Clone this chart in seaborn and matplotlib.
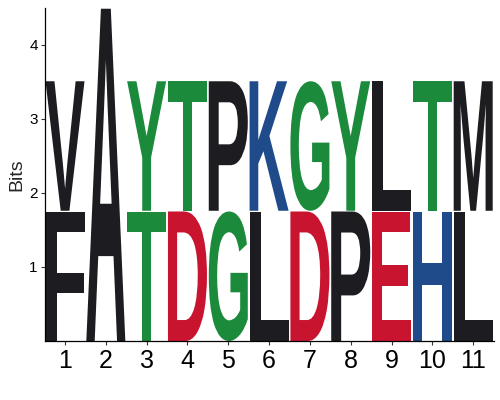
import matplotlib
matplotlib.use("Agg")
import matplotlib.pyplot as plt
import seaborn as sns
from matplotlib.textpath import TextPath
from matplotlib.patches import PathPatch
from matplotlib.font_manager import FontProperties
from matplotlib.transforms import Affine2D

# ---- data ----
positions = [1, 2, 3, 4, 5, 6, 7, 8, 9, 10, 11]
bottom_letters = ["F", "A", "T", "D", "G", "L", "D", "P", "E", "H", "L"]
bottom_heights = [1.76, 4.5, 1.76, 1.76, 1.76, 1.76, 1.76, 1.76, 1.76, 1.76, 1.76]
top_letters = ["V", "", "Y", "T", "P", "K", "G", "Y", "L", "T", "M"]
top_heights = [1.76, 0.0, 1.76, 1.76, 1.76, 1.76, 1.76, 1.76, 1.76, 1.76, 1.76]
y_ticks = [1, 2, 3, 4]

# chemistry colour scheme
colors = {
    "hydrophobic": "#1d1c20",
    "polar": "#1b8a3b",
    "basic": "#1f4b8b",
    "acidic": "#c9142f",
}
groups = {
    "A": "hydrophobic", "V": "hydrophobic", "L": "hydrophobic", "I": "hydrophobic",
    "P": "hydrophobic", "W": "hydrophobic", "F": "hydrophobic", "M": "hydrophobic",
    "G": "polar", "S": "polar", "T": "polar", "Y": "polar", "C": "polar",
    "K": "basic", "R": "basic", "H": "basic",
    "D": "acidic", "E": "acidic",
}

sns.set_theme(style="ticks")
plt.rcParams["font.family"] = ["Liberation Sans", "DejaVu Sans"]

fig = plt.figure(figsize=(5, 4), dpi=100)
ax = fig.add_axes([0.0892, 0.1475, 0.898, 0.8325])

fp = FontProperties(family="Liberation Sans", weight="bold")
half_w = 0.478
gap = 0.01


def draw_letter(ax, letter, x, y0, h):
    if not letter or h <= 0:
        return
    path = TextPath((0, 0), letter, size=1, prop=fp)
    bb = path.get_extents()
    tr = (Affine2D()
          .translate(-bb.x0, -bb.y0)
          .scale(2 * half_w / bb.width, (h - gap) / bb.height)
          .translate(x - half_w, y0))
    patch = PathPatch(tr.transform_path(path), transform=ax.transData,
                      facecolor=colors[groups[letter]], edgecolor="none", lw=0)
    ax.add_patch(patch)


for x, bl, bh, tl, th in zip(positions, bottom_letters, bottom_heights,
                             top_letters, top_heights):
    draw_letter(ax, bl, x, 0.0, bh)
    draw_letter(ax, tl, x, bh, th)

ax.set_xlim(0.5, 11.5)
ax.set_ylim(0, 4.5)
ax.set_xticks(positions)
ax.set_xticklabels([str(p) for p in positions], fontsize=18)
ax.set_yticks(y_ticks)
ax.set_yticklabels([str(t) for t in y_ticks], fontsize=11)
ax.set_ylabel("Bits", fontsize=14, labelpad=3)
ax.tick_params(axis="both", length=3, width=0.8, color="#333333", labelcolor="black", pad=2)
ax.tick_params(axis="x", pad=3)
sns.despine(ax=ax)
for s in ("left", "bottom"):
    ax.spines[s].set_color("black")
    ax.spines[s].set_linewidth(0.9)
ax.grid(False)

fig.savefig("out.png", dpi=100)
